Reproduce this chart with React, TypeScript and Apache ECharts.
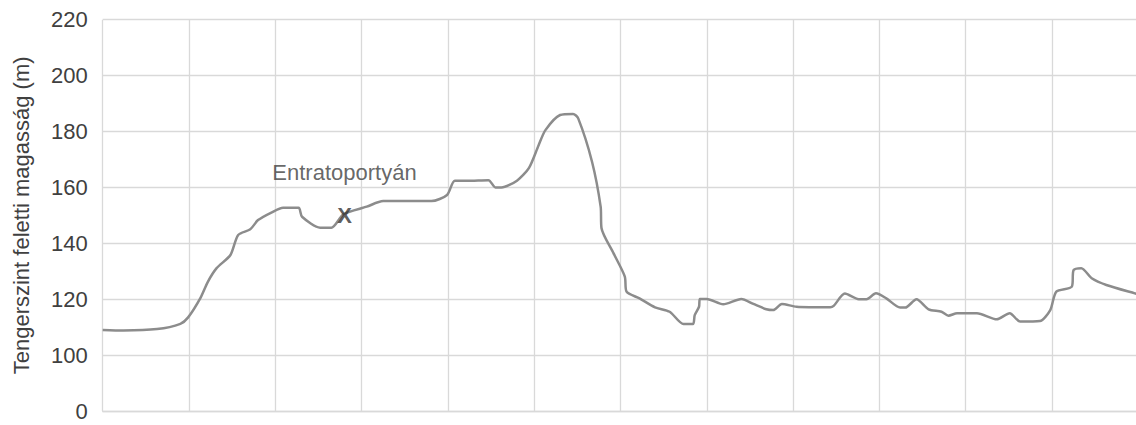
import React, { useEffect, useRef } from "react";
import * as echarts from "echarts";

// distance along the route (one grid column = one unit)
const distance = [
  0, 0.24, 0.63, 0.9, 0.99, 1.13, 1.22, 1.32, 1.48, 1.57, 1.71, 1.8, 1.96, 2.09, 2.27, 2.31,
  2.52, 2.65, 2.79, 3.06, 3.25, 3.81, 3.99, 4.08, 4.22, 4.47, 4.55, 4.62, 4.8, 4.94, 5.05,
  5.13, 5.3, 5.45, 5.51, 5.67, 5.77, 5.78, 5.92, 6.05, 6.07, 6.22, 6.4, 6.57, 6.73, 6.84,
  6.86, 6.91, 6.92, 7.0, 7.19, 7.4, 7.54, 7.69, 7.77, 7.87, 8.04, 8.43, 8.47, 8.6, 8.76,
  8.85, 8.96, 9.08, 9.24, 9.3, 9.43, 9.57, 9.72, 9.8, 9.9, 10.13, 10.36, 10.51, 10.63,
  10.86, 10.98, 11.05, 11.23, 11.25, 11.34, 11.46, 11.63, 11.96, 12,
];
// elevation above sea level (m)
const elevation = [
  109, 108.8, 109.3, 111.2, 113.5, 120.3, 126.3, 131.1, 135.8, 143, 145, 148.3, 151.1, 152.7,
  152.7, 149.5, 145.6, 145.6, 150.4, 153.1, 155.1, 155.1, 157.3, 162.4, 162.4, 162.6, 160,
  160, 162.4, 167, 175, 180.5, 185.9, 186.3, 184.7, 169.2, 153.1, 145.4, 136.4, 128.1, 122.7,
  120.3, 117.1, 115.5, 111.1, 111.1, 114.3, 117.3, 120.1, 120.1, 118.2, 120.1, 118.3, 116.4,
  116.1, 118.3, 117.3, 117.1, 117.6, 122, 120, 120, 122.1, 120.3, 117, 117, 120, 116.4, 115.5,
  114.1, 115, 115, 112.8, 115, 112, 112.2, 116.1, 122.7, 124.5, 130.4, 131.1, 127.5, 125.1,
  122.1, 121.8,
];
// marked place
const placeName = "Entratoportyán";
const placeDistance = 2.79;
const placeElevation = 150.4;

const yAxisTitle = "Tengerszint feletti magasság (m)";
const yMin = 80;
const yMax = 220;
const yStep = 20;
const yLabelAtMin = "0";

const FONT = "'Liberation Sans', Arial, sans-serif";
const TEXT = "#404040";

export default function App() {
  const ref = useRef<HTMLDivElement>(null);
  useEffect(() => {
    document.body.style.margin = "0";
    const chart = echarts.init(ref.current!, null, { renderer: "svg" });
    chart.setOption({
      animation: false,
      backgroundColor: "#ffffff",
      textStyle: { fontFamily: FONT },
      grid: {
        left: 102.7,
        top: 19.7,
        width: 1035.6,
        height: 391.3,
        containLabel: false,
        outerBoundsMode: "none",
      },
      xAxis: {
        type: "value",
        min: 0,
        max: 12,
        interval: 1,
        axisLine: { show: true, lineStyle: { color: "#d9d9d9", width: 1.3 } },
        axisTick: { show: false },
        axisLabel: { show: false },
        splitLine: { show: true, lineStyle: { color: "#d9d9d9", width: 1.3 } },
      },
      yAxis: {
        type: "value",
        min: yMin,
        max: yMax,
        interval: yStep,
        name: yAxisTitle,
        nameLocation: "middle",
        nameGap: 70,
        nameRotate: 90,
        nameTextStyle: { color: TEXT, fontSize: 22, fontFamily: FONT },
        axisLine: { show: false },
        axisTick: { show: false },
        axisLabel: {
          color: TEXT,
          fontSize: 22,
          margin: 15,
          fontFamily: FONT,
          formatter: (v: number) => (v === yMin ? yLabelAtMin : String(v)),
        },
        splitLine: { show: true, lineStyle: { color: "#d9d9d9", width: 1.3 } },
      },
      series: [
        {
          type: "line",
          data: distance.map((d, i) => [d, elevation[i]]),
          showSymbol: false,
          symbol: "none",
          smooth: 0.25,
          lineStyle: { color: "#8c8c8c", width: 2.5 },
          z: 2,
        },
        {
          type: "scatter",
          data: [[placeDistance, placeElevation]],
          symbolSize: 1,
          itemStyle: { color: "rgba(0,0,0,0)" },
          z: 3,
          label: {
            show: true,
            position: "inside",
            offset: [1, -29],
            formatter: `{n|${placeName}}\n{x|X}`,
            rich: {
              n: { fontSize: 22, lineHeight: 60, color: TEXT, fontFamily: FONT },
              x: { fontSize: 22, lineHeight: 26, color: "#333333", fontWeight: "bold", fontFamily: FONT },
            },
          },
        },
      ],
    });
    return () => chart.dispose();
  }, []);
  return <div ref={ref} style={{ width: 1136, height: 425 }} />;
}
